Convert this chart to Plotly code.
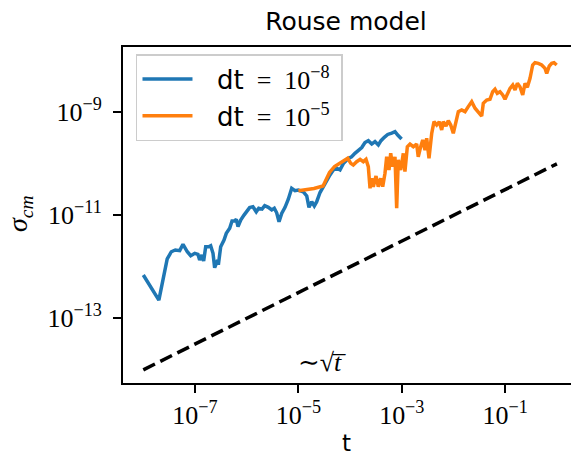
import plotly.graph_objects as go

# ---- data ----
t_dt8 = [1.0e-8, 2.0e-8, 2.9e-8, 3.48e-8, 4.16e-8, 5.06e-8, 5.86e-8, 7.10e-8, 8.26e-8, 9.9e-8,
         1.14e-7, 1.23e-7, 1.36e-7, 1.47e-7, 1.61e-7, 1.84e-7, 2.01e-7, 2.23e-7, 2.40e-7, 2.67e-7,
         2.87e-7, 3.14e-7, 3.64e-7, 4.03e-7, 4.69e-7, 5.20e-7, 5.86e-7, 6.30e-7, 6.79e-7, 7.66e-7,
         8.87e-7, 9.8e-7, 1.14e-6, 1.32e-6, 1.53e-6, 1.71e-6, 1.98e-6, 2.23e-6, 2.62e-6, 3.05e-6,
         3.42e-6, 3.80e-6, 4.22e-6, 4.75e-6, 5.51e-6, 6.38e-6, 7.42e-6, 8.59e-6, 9.95e-6, 1.24e-5,
         1.45e-5, 1.60e-5, 1.81e-5, 2.03e-5, 2.26e-5, 2.62e-5, 3.03e-5, 3.53e-5, 4.08e-5, 4.73e-5,
         5.51e-5, 6.38e-5, 7.38e-5, 9.2e-5, 1.07e-4, 1.24e-4, 1.44e-4, 1.68e-4, 1.94e-4, 2.25e-4,
         2.62e-4, 3.03e-4, 3.52e-4, 3.96e-4, 4.59e-4, 5.34e-4, 6.38e-4, 7.38e-4, 8.33e-4, 9.9e-4]
sigma_dt8 = [6.93e-13, 2.26e-13, 1.42e-12, 1.96e-12, 2.12e-12, 2.06e-12, 2.74e-12, 1.96e-12, 1.64e-12, 1.83e-12,
             1.75e-12, 1.36e-12, 1.69e-12, 1.30e-12, 2.45e-12, 2.45e-12, 2.57e-12, 1.83e-12, 9.6e-13, 1.26e-12,
             1.22e-12, 2.45e-12, 3.31e-12, 4.47e-12, 5.60e-12, 7.74e-12, 7.74e-12, 8.36e-12, 6.01e-12, 8.11e-12,
             1.01e-11, 1.17e-11, 1.41e-11, 1.47e-11, 1.17e-11, 1.37e-11, 1.32e-11, 1.54e-11, 1.43e-11, 1.27e-11,
             1.37e-11, 1.12e-11, 7.51e-12, 1.09e-11, 1.43e-11, 2.05e-11, 3.34e-11, 3.01e-11, 3.10e-11, 2.87e-11,
             2.37e-11, 1.43e-11, 1.84e-11, 1.52e-11, 1.84e-11, 2.77e-11, 3.62e-11, 4.84e-11, 6.07e-11, 7.59e-11,
             8.18e-11, 7.59e-11, 1.01e-10, 1.27e-10, 1.37e-10, 1.60e-10, 1.80e-10, 2.07e-10, 2.59e-10, 2.81e-10,
             2.42e-10, 2.71e-10, 2.32e-10, 2.81e-10, 3.27e-10, 3.71e-10, 3.96e-10, 4.20e-10, 3.62e-10, 3.03e-10]

t_dt5 = [1.0e-5, 2.0e-5, 3.0e-5, 4.0e-5, 5.0e-5, 6.0e-5, 7.0e-5, 8.0e-5, 9.0e-5, 1.03e-4,
         1.15e-4, 1.34e-4, 1.56e-4, 1.80e-4, 2.03e-4, 2.25e-4, 2.43e-4, 2.62e-4, 2.81e-4, 3.17e-4,
         3.51e-4, 3.91e-4, 4.27e-4, 4.73e-4, 5.10e-4, 5.65e-4, 6.10e-4, 6.67e-4, 7.38e-4, 7.96e-4,
         8.55e-4, 9.52e-4, 1.07e-3, 1.15e-3, 1.28e-3, 1.44e-3, 1.67e-3, 1.94e-3, 2.08e-3, 2.32e-3,
         2.54e-3, 2.81e-3, 3.03e-3, 3.36e-3, 3.79e-3, 4.20e-3, 4.73e-3, 5.31e-3, 5.91e-3, 6.35e-3,
         7.16e-3, 7.93e-3, 8.83e-3, 9.91e-3, 1.12e-2, 1.24e-2, 1.44e-2, 1.67e-2, 1.93e-2, 2.25e-2,
         2.61e-2, 3.02e-2, 3.51e-2, 3.77e-2, 4.38e-2, 5.08e-2, 5.73e-2, 6.35e-2, 7.03e-2, 7.93e-2,
         8.95e-2, 9.91e-2, 0.110, 0.124, 0.140, 0.155, 0.172, 0.193, 0.218, 0.242,
         0.268, 0.302, 0.340, 0.377, 0.437, 0.508, 0.589, 0.635, 0.713, 0.794,
         0.879, 0.99]
sigma_dt5 = [3.01e-11, 3.31e-11, 3.71e-11, 6.78e-11, 8.87e-11, 9.9e-11, 1.08e-10, 1.19e-10, 1.28e-10, 1.02e-10,
             9.5e-11, 1.10e-10, 1.22e-10, 1.10e-10, 1.22e-10, 8.79e-11, 3.34e-11, 5.22e-11, 3.59e-11, 5.79e-11,
             3.59e-11, 5.22e-11, 3.59e-11, 6.55e-11, 1.37e-10, 7.59e-11, 1.60e-10, 8.79e-11, 1.37e-10, 1.37e-11,
             1.19e-10, 7.59e-11, 1.60e-10, 7.03e-11, 2.15e-10, 2.42e-10, 2.15e-10, 2.42e-10, 1.37e-10, 2.15e-10,
             2.90e-10, 1.85e-10, 3.13e-10, 1.28e-10, 3.91e-10, 6.57e-10, 5.66e-10, 6.57e-10, 4.53e-10, 6.57e-10,
             5.42e-10, 6.87e-10, 5.66e-10, 3.91e-10, 7.08e-10, 1.03e-9, 1.11e-9, 1.03e-9, 1.29e-9, 1.61e-9,
             1.20e-9, 1.03e-9, 8.47e-10, 1.50e-9, 1.73e-9, 1.79e-9, 2.51e-9, 2.80e-9, 2.34e-9, 2.51e-9,
             2.17e-9, 1.79e-9, 2.34e-9, 2.92e-9, 3.39e-9, 2.71e-9, 3.65e-9, 3.14e-9, 2.17e-9, 3.65e-9,
             3.05e-9, 4.57e-9, 8.28e-9, 9.18e-9, 8.93e-9, 8.28e-9, 7.14e-9, 5.71e-9, 7.93e-9, 8.93e-9,
             9.18e-9, 8.28e-9]

# reference slope ~ sqrt(t)
t_ref = [1e-8, 1.0]
sigma_ref = [1e-14, 1e-10]

x_tickvals = [1e-7, 1e-5, 1e-3, 1e-1]
x_ticktext = ["10<sup>−7</sup>", "10<sup>−5</sup>", "10<sup>−3</sup>", "10<sup>−1</sup>"]
y_tickvals = [1e-13, 1e-11, 1e-9]
y_ticktext = ["10<sup>−13</sup>", "10<sup>−11</sup>", "10<sup>−9</sup>"]

SERIF = "Liberation Serif, DejaVu Serif, serif"
SANS = "DejaVu Sans, sans-serif"
LEG_PAD = "&nbsp;&nbsp;&nbsp;"

fig = go.Figure()
fig.add_trace(go.Scatter(
    x=t_dt8, y=sigma_dt8, mode="lines",
    line=dict(color="#1f77b4", width=3.5),
    name=LEG_PAD + '<span style="font-family:DejaVu Sans">dt</span>&nbsp;&nbsp;=&nbsp;&nbsp;10<sup>−8</sup>&nbsp;'))
fig.add_trace(go.Scatter(
    x=t_dt5, y=sigma_dt5, mode="lines",
    line=dict(color="#ff7f0e", width=3.5),
    name=LEG_PAD + '<span style="font-family:DejaVu Sans">dt</span>&nbsp;&nbsp;=&nbsp;&nbsp;10<sup>−5</sup>&nbsp;'))
fig.add_trace(go.Scatter(
    x=t_ref, y=sigma_ref, mode="lines",
    line=dict(color="black", width=3.5, dash="13px,6px"),
    showlegend=False))

fig.update_layout(
    width=571, height=457,
    margin=dict(l=123, r=0, t=47, b=74),
    plot_bgcolor="white", paper_bgcolor="white",
    title=dict(text="Rouse model", x=(346 - 123) / 448, xref="paper", xanchor="center",
               y=1 - 21 / 457, yanchor="middle",
               font=dict(family=SANS, size=25, color="black")),
    legend=dict(x=0.029, y=(383 - 54) / 336, xanchor="left", yanchor="top",
                bordercolor="#cccccc", borderwidth=1.5, bgcolor="rgba(255,255,255,0.8)",
                font=dict(family=SERIF, size=26, color="black"),
                itemwidth=50, tracegroupgap=0),
    xaxis=dict(type="log", range=[-8.3927, 0.2727], automargin=False,
               tickvals=x_tickvals, ticktext=x_ticktext,
               ticks="outside", ticklen=8, tickwidth=1.5, tickcolor="black",
               showline=True, linewidth=1.8, linecolor="black", mirror=True,
               showgrid=False, zeroline=False,
               tickfont=dict(family=SERIF, size=26, color="black")),
    yaxis=dict(type="log", range=[-14.256, -7.732], automargin=False,
               tickvals=y_tickvals, ticktext=y_ticktext,
               ticks="outside", ticklen=8, tickwidth=1.5, tickcolor="black",
               showline=True, linewidth=1.8, linecolor="black", mirror=False,
               showgrid=False, zeroline=False,
               ticklabelstandoff=6,
               tickfont=dict(family=SERIF, size=26, color="black")),
    annotations=[
        dict(text="t", xref="paper", yref="paper",
             x=(346 - 123) / 448, y=(383 - 443) / 336, showarrow=False,
             xanchor="center", yanchor="middle",
             font=dict(family=SANS, size=23, color="black")),
        dict(text="<i>σ</i><sub><i>cm</i></sub>", xref="paper", yref="paper",
             x=(19 - 123) / 448, y=(383 - 214) / 336, showarrow=False, textangle=-90,
             xanchor="center", yanchor="middle",
             font=dict(family=SERIF, size=28, color="black")),
        dict(text="∼√<i>t̅</i>", xref="paper", yref="paper",
             x=(322 - 123) / 448, y=(383 - 362) / 336, showarrow=False,
             xanchor="center", yanchor="middle",
             font=dict(family=SERIF, size=26, color="black")),
    ],
)

fig.write_html("out.html")
